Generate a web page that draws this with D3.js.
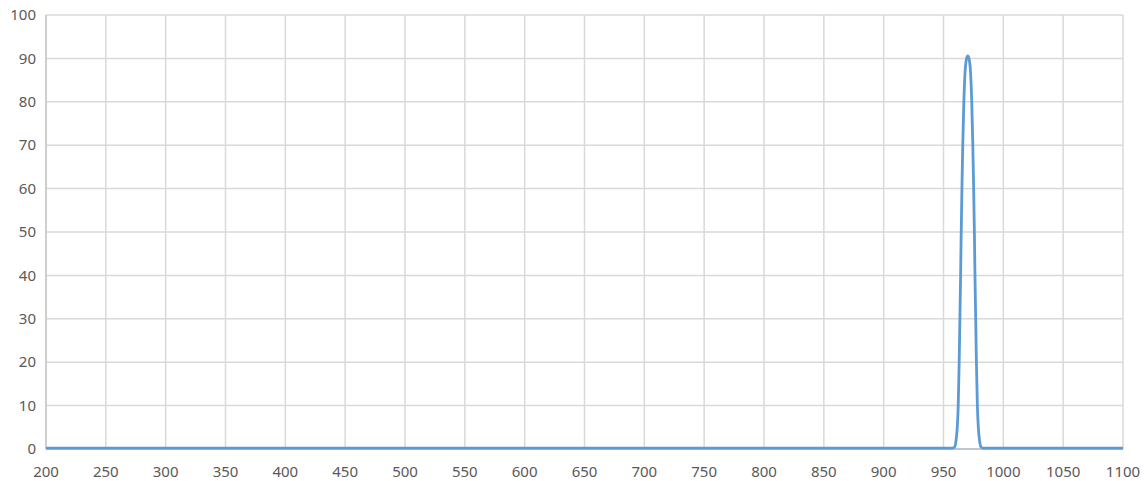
<!DOCTYPE html>
<html>
<head>
<meta charset="utf-8">
<script src="https://cdn.jsdelivr.net/npm/d3@7"></script>
<style>
  body { margin: 0; background: #fff; }
  svg text { font-family: "Noto Sans", sans-serif; font-size: 15px; fill: #595959; }
</style>
</head>
<body>
<svg id="chart" width="1144" height="481"></svg>
<script>
// Wavelength (nm) and transmission (%)
const wavelength = [200, 957.3, 959.3, 960.5, 961.5, 962.3, 963.1, 963.7, 964.3, 964.8, 965.4, 966.1, 967.0, 967.5, 968.3, 969.3, 970.3,
  971.3, 972.3, 973.1, 973.6, 974.5, 975.2, 975.8, 976.3, 976.9, 977.5, 978.3, 979.1, 980.1, 981.3, 983.3, 1100];
const transmission = [0.2, 0.2, 0.5, 2, 5, 10, 20, 30, 40, 50, 60, 70, 80, 84, 88, 90, 90.6,
  90, 88, 84, 80, 70, 60, 50, 40, 30, 20, 10, 5, 2, 0.5, 0.2, 0.2];

const xTicks = d3.range(200, 1101, 50);
const yTicks = d3.range(0, 101, 10);

const svg = d3.select("#chart");
const margin = { top: 15, right: 21, bottom: 32, left: 46 };
const width = 1144 - margin.left - margin.right;
const height = 481 - margin.top - margin.bottom;

const g = svg.append("g").attr("transform", `translate(${margin.left},${margin.top})`);

const x = d3.scaleLinear().domain([200, 1100]).range([0, width]);
const y = d3.scaleLinear().domain([0, 100]).range([height, 0]);

// grid
g.append("g").selectAll("line").data(xTicks).join("line")
  .attr("x1", d => x(d)).attr("x2", d => x(d))
  .attr("y1", 0).attr("y2", height)
  .attr("stroke", "#d9d9d9").attr("stroke-width", 1.5);

g.append("g").selectAll("line").data(yTicks).join("line")
  .attr("x1", 0).attr("x2", width)
  .attr("y1", d => y(d)).attr("y2", d => y(d))
  .attr("stroke", "#d9d9d9").attr("stroke-width", 1.5);

// axis lines
g.append("line").attr("x1", 0).attr("x2", 0).attr("y1", 0).attr("y2", height)
  .attr("stroke", "#c8c8c8").attr("stroke-width", 1.5);
g.append("line").attr("x1", 0).attr("x2", width).attr("y1", height).attr("y2", height)
  .attr("stroke", "#b4bcc6").attr("stroke-width", 1.5);

// tick labels
g.append("g").selectAll("text").data(yTicks).join("text")
  .attr("x", -10).attr("y", d => y(d)).attr("dy", "0.35em")
  .attr("text-anchor", "end").text(d => d);

g.append("g").selectAll("text").data(xTicks).join("text")
  .attr("x", d => x(d)).attr("y", height + 28)
  .attr("text-anchor", "middle").text(d => d);

// spectrum line
const data = wavelength.map((w, i) => ({ w, t: transmission[i] }));
const line = d3.line()
  .x(d => x(d.w))
  .y(d => y(d.t))
  .curve(d3.curveMonotoneX);

g.append("path")
  .datum(data)
  .attr("fill", "none")
  .attr("stroke", "#5b9bd5")
  .attr("stroke-width", 2.8)
  .attr("stroke-linejoin", "round")
  .attr("d", line);
</script>
</body>
</html>
